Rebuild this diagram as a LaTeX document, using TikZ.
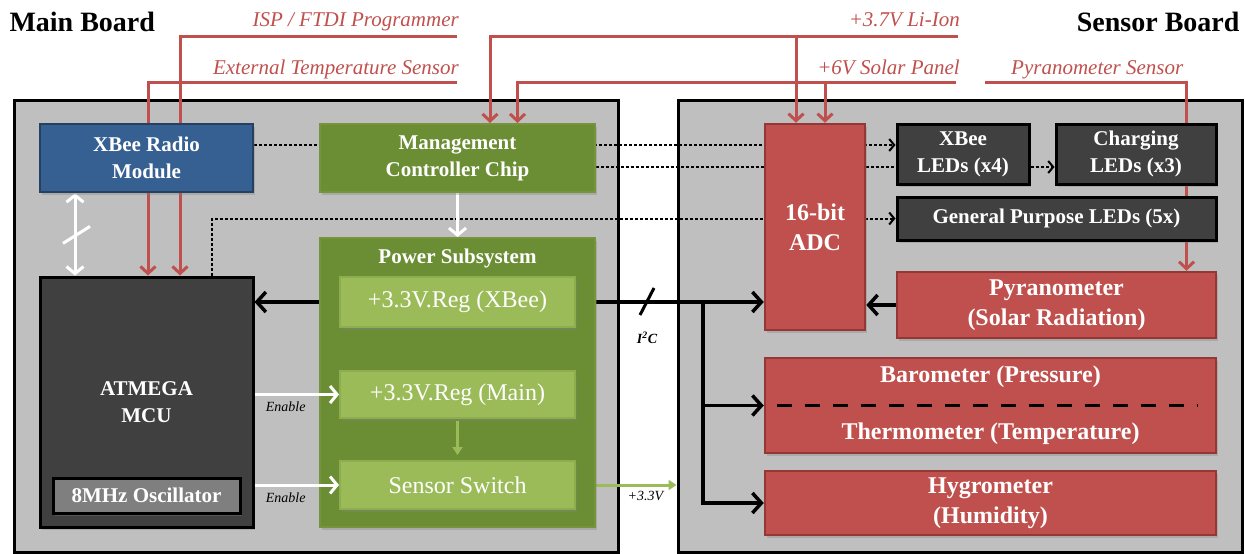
\documentclass[tikz,border=0pt]{standalone}
\usepackage{fontspec}
\setmainfont{Liberation Serif}
\usetikzlibrary{arrows.meta,shadows}

\definecolor{boardgray}{HTML}{BFBFBF}
\definecolor{xbeeblue}{HTML}{376092}
\definecolor{xbeeedge}{HTML}{254061}
\definecolor{mgmtgreen}{HTML}{6B8E35}
\definecolor{mgmtedge}{HTML}{77933C}
\definecolor{reggreen}{HTML}{9BBB59}
\definecolor{regedge}{HTML}{8DAD4E}
\definecolor{sensred}{HTML}{C0504D}
\definecolor{sensedge}{HTML}{953735}
\definecolor{ledgray}{HTML}{404040}
\definecolor{oscgray}{HTML}{7F7F7F}

\pgfdeclarelayer{boards}
\pgfdeclarelayer{wires}
\pgfsetlayers{boards,wires,main}

\tikzset{
  board/.style={draw=black, fill=boardgray, line width=3pt, inner sep=0pt},
  boxtext/.style={inner sep=0pt, align=center, text=white,
    font=\bfseries\fontsize{21}{27}\selectfont},
  box/.style={boxtext, line width=2.5pt,
    drop shadow={shadow xshift=2pt, shadow yshift=-3pt, opacity=0.35}},
  xbeebox/.style={box, draw=xbeeedge, fill=xbeeblue},
  mgmtbox/.style={box, draw=mgmtedge, fill=mgmtgreen, line width=2pt},
  regbox/.style={box, draw=regedge, fill=reggreen, line width=2pt,
    font=\fontsize{24}{28}\selectfont, minimum width=235pt},
  darkbox/.style={box, draw=black, fill=ledgray, line width=3pt},
  oscbox/.style={box, draw=black, fill=oscgray, line width=3pt},
  sensbox/.style={box, draw=sensedge, fill=sensred, font=\bfseries\fontsize{24}{30}\selectfont},
  title/.style={font=\bfseries\fontsize{28}{30}\selectfont},
  extlabel/.style={text=sensred, font=\itshape\fontsize{21}{25}\selectfont, inner sep=0pt},
  smalllabel/.style={font=\itshape\fontsize{14}{16}\selectfont, inner sep=1pt},
  redwire/.style={draw=sensred, line width=3pt, >={Straight Barb[length=7pt,width=15pt]}, ->},
  blkwire/.style={draw=black, line width=3.5pt, >={Straight Barb[length=9pt,width=20pt]}, ->},
  whtwire/.style={draw=white, line width=3pt, >={Straight Barb[length=7pt,width=17pt]}},
  dotwire/.style={draw=black, line width=2pt, dash pattern=on 2.5pt off 2.5pt,
    >={Straight Barb[length=5pt,width=12pt]}, ->},
  grnwire/.style={draw=reggreen, line width=3pt, >={Triangle[length=8pt,width=10pt]}, ->},
}

\begin{document}
\begin{tikzpicture}[x=1pt,y=-1pt]
  \useasboundingbox (0,0) rectangle (1245,554);
  % the two boards
  \begin{pgfonlayer}{boards}
    \node[board, minimum width=604pt, minimum height=452pt] (mainbd) at (316,326) {};
    \node[board, minimum width=564pt, minimum height=452pt] (sensbd) at (960,326) {};
  \end{pgfonlayer}
  \node[title, anchor=west] (mainttl) at (6,22) {Main Board};
  \node[title, anchor=east] (sensttl) at (1243,22) {Sensor Board};

  % Main board
  \node[xbeebox, minimum width=213pt, minimum height=68pt] (xbee) at (146.5,158) {XBee Radio\\Module};
  \node[mgmtbox, minimum width=275pt, minimum height=68pt] (mgmt) at (457.5,158) {Management\\Controller Chip};
  \node[mgmtbox, minimum width=275pt, minimum height=289pt] (power) at (457.5,382.5) {};
  \node[boxtext] (pwrttl) at (457.5,258) {Power Subsystem};
  \node[regbox, minimum height=50pt] (regx) at (457.5,302) {+3.3V.Reg (XBee)};
  \node[regbox, minimum height=47pt] (regm) at (457.5,394.5) {+3.3V.Reg (Main)};
  \node[regbox, minimum height=48pt] (sw) at (457.5,485) {Sensor Switch};
  \node[darkbox, minimum width=213pt, minimum height=250pt] (mcu) at (146.5,402) {ATMEGA\\MCU};
  \node[oscbox, minimum width=187pt, minimum height=35pt] (osc) at (146.5,495.5) {8MHz Oscillator};
  % enable lines and switched supply
  \foreach \tgt in {regm, sw}
    \draw[whtwire, ->] (mcu.east |- \tgt.west) -- node[smalllabel, below=5pt, pos=0.37] (en-\tgt) {Enable} (\tgt.west);
  \draw[grnwire, shorten <=2pt, shorten >=5pt] (regm.south) -- (sw.north);

  % Sensor board
  \node[sensbox, minimum width=100pt, minimum height=206pt] (adc) at (815,227) {16-bit\\ADC};
  \node[darkbox, minimum width=132pt, minimum height=60pt] (xled) at (963,154) {XBee\\LEDs (x4)};
  \node[darkbox, minimum width=160pt, minimum height=60pt] (cled) at (1136,154) {Charging\\LEDs (x3)};
  \node[darkbox, minimum width=319pt, minimum height=43pt] (gled) at (1056.5,218.5) {General Purpose LEDs (5x)};
  \node[sensbox, minimum width=319pt, minimum height=66pt] (pyr) at (1056.5,305) {Pyranometer\\(Solar Radiation)};
  \node[sensbox, minimum width=451pt, minimum height=95pt] (baro) at (990.5,405.5) {};
  \node[boxtext, font=\bfseries\fontsize{24}{30}\selectfont] (barotxt) at ([yshift=28.5pt]baro.center) {Barometer (Pressure)};
  \node[boxtext, font=\bfseries\fontsize{24}{30}\selectfont] (thermtxt) at ([yshift=-28.5pt]baro.center) {Thermometer (Temperature)};
  \draw[line width=3pt, dash pattern=on 15pt off 13pt] ([xshift=13pt]baro.west) -- ([xshift=-19pt]baro.east);
  \node[sensbox, minimum width=451pt, minimum height=64pt] (hyg) at (990.5,503) {Hygrometer\\(Humidity)};

  % outside connections
  \node[extlabel, anchor=base east] (isp) at (459,27) {ISP / FTDI Programmer};
  \node[extlabel, anchor=base east] (exttemp) at (459,74) {External Temperature Sensor};
  \node[extlabel, anchor=base east] (liion) at (960,27) {+3.7V Li-Ion};
  \node[extlabel, anchor=base east] (solar) at (960,74) {+6V Solar Panel};
  \node[extlabel, anchor=base west] (pyrsens) at (1011,74) {Pyranometer Sensor};
  \coordinate (ispend) at (457,36);
  \coordinate (tempend) at (457,82);
  \coordinate (liend) at (958,36);
  \coordinate (solend) at (956,82);
  \coordinate (pyrend) at (985,82);

  \begin{pgfonlayer}{wires}
    % supply and sensor feeds
    \draw[redwire] (ispend) -| ([xshift=33.5pt]mcu.north);
    \draw[redwire] (tempend) -| ([xshift=1.5pt]mcu.north);
    \draw[redwire] (liend) -| ([xshift=32.5pt]mgmt.north);
    \draw[redwire] ([xshift=-19pt]adc.north |- liend) -- ([xshift=-19pt]adc.north);
    \draw[redwire] (solend) -| ([xshift=60pt]mgmt.north);
    \draw[redwire] ([xshift=10pt]adc.north |- solend) -- ([xshift=10pt]adc.north);
    \draw[redwire] (pyrend) -| ([xshift=130pt]pyr.north);
    % status lines to the LEDs
    \draw[dotwire] ([yshift=13pt]xbee.east) -- ([yshift=13pt]xbee.east -| xled.west);
    \draw[dotwire] ([yshift=-9pt]mgmt.east) -- ([yshift=-9pt]mgmt.east -| cled.west);
    \draw[dotwire] ([xshift=65.5pt]mcu.north) |- (gled.west);
    % serial link and control
    \draw[whtwire, <->] ([xshift=-71.5pt]xbee.south) -- coordinate[midway] (xlink) ([xshift=-71.5pt]mcu.north);
    \draw[white, line width=3pt] ([shift={(-12,9)}]xlink) -- ([shift={(15,-8)}]xlink);
    \draw[whtwire, ->] (mgmt.south) -- (power.north);
    % power and I2C bus
    \draw[blkwire] (regx.west) -- (regx.west -| mcu.east);
    \draw[blkwire] (regx.east) -- (regx.east -| adc.west);
    \coordinate (ibus) at ([xshift=127pt]regx.east);
    \foreach \tgt in {baro, hyg}
      \draw[blkwire] (ibus) |- (\tgt.west);
    \draw[blkwire] (pyr.west) -- (pyr.west -| adc.east);
    \coordinate (i2cslash) at ([xshift=71pt]regx.east);
    \draw[line width=3pt] ([shift={(-7,13)}]i2cslash) -- ([shift={(7,-14)}]i2cslash);
    \node[smalllabel, font=\bfseries\itshape\fontsize{14}{16}\selectfont] (i2c) at ([yshift=-36pt]i2cslash) {I\textsuperscript{2}C};
    \draw[grnwire] (sw.east) -- node[smalllabel, below=4pt, pos=0.69] (v33) {+3.3V} (sw.east -| sensbd.west);
  \end{pgfonlayer}
\end{tikzpicture}
\end{document}
